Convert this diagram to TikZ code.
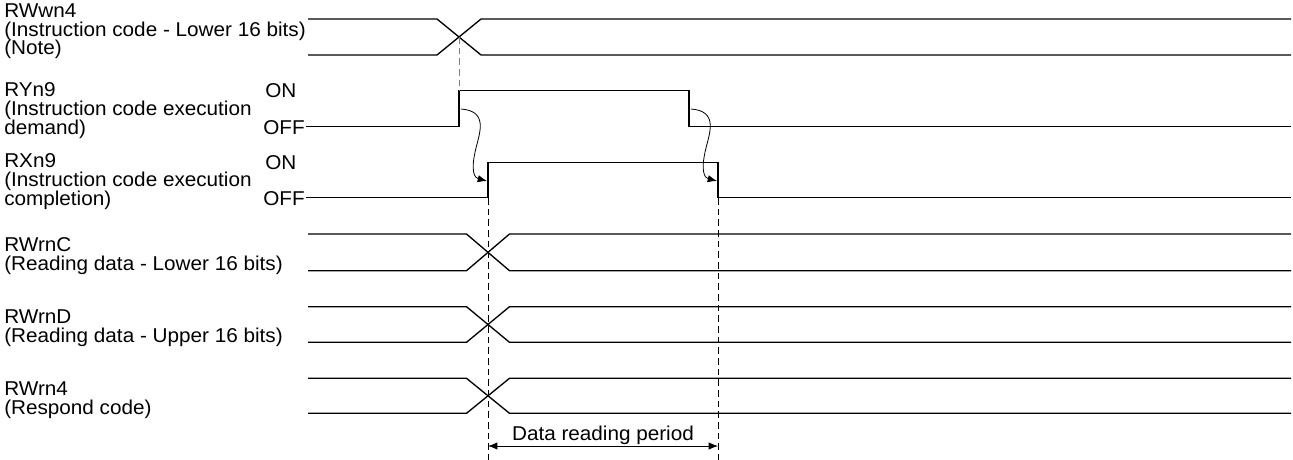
\documentclass[tikz,border=0pt]{standalone}
\usepackage{fontspec}
\setmainfont{Liberation Sans}[FakeStretch=1.035]
\usetikzlibrary{arrows.meta}

\begin{document}
\begin{tikzpicture}[
		x=0.75pt, y=-0.75pt,
		lbl/.style={anchor=base west, align=left, inner sep=0pt, font=\fontsize{15}{14}\selectfont},
		sig/.style={line width=1pt},
		guide/.style={line width=0.6pt, dash pattern=on 5pt off 3pt},
		cause/.style={line width=0.6pt, -{Latex[length=7pt, width=5.5pt]}},
		span/.style={line width=0.6pt, {Latex[length=7pt, width=5.5pt]}-{Latex[length=7pt, width=5.5pt]}},
		]
		\useasboundingbox (0,0) rectangle (1293,460);
		
		%Nodes (anchored at the baseline of the last line)
		\node[lbl](rwwn4) at (4,55){RWwn4\\(Instruction code - Lower 16 bits)\\(Note)};
		\node[lbl](ryn9) at (4,134){RYn9\\(Instruction code execution\\demand)};
		\node[lbl](ryon) at (265,98){ON};
		\node[lbl](ryoff) at (263,134){OFF};
		\node[lbl](rxn9) at (4,205){RXn9\\(Instruction code execution\\completion)};
		\node[lbl](rxon) at (265,170){ON};
		\node[lbl](rxoff) at (263,205){OFF};
		\node[lbl](rwrnc) at (4,270){RWrnC\\(Reading data - Lower 16 bits)};
		\node[lbl](rwrnd) at (4,342){RWrnD\\(Reading data - Upper 16 bits)};
		\node[lbl](rwrn4) at (4,414){RWrn4\\(Respond code)};
		
		%Edges
		\coordinate (ryleft) at (306,126.7);
		\coordinate (ryup) at (459,90.7);
		\coordinate (rydown) at (689,90.7);
		\coordinate (rxleft) at (306,197.7);
		\coordinate (rxup) at (488,162.7);
		\coordinate (rxdown) at (718,162.7);
		\coordinate (rdstart) at (488,446);
		\coordinate (rdend) at (718,446);
		
		%Signals
		\draw[sig] (308,19) -- (437,19) -- (481,55) -- (1291,55);
		\draw[sig] (308,55) -- (437,55) -- (481,19) -- (1291,19);
		\draw[sig] (ryleft) -- (459,126.7) -- (ryup) -- (rydown) -- (689,126.7) -- (1291,126.7);
		\draw[sig] (rxleft) -- (488,197.7) -- (rxup) -- (rxdown) -- (718,197.7) -- (1291,197.7);
		\foreach \ya/\yb in {234/270.7, 306.7/342.3, 378.3/413.3}{
			\draw[sig] (308,\ya) -- (466.5,\ya) -- (509.5,\yb) -- (1291,\yb);
			\draw[sig] (308,\yb) -- (466.5,\yb) -- (509.5,\ya) -- (1291,\ya);
		}
		
		%Lines
		\draw[guide, gray] (459,37) -- (ryup);
		\draw[guide] (488,198) -- (488,460);
		\draw[guide] (718,198) -- (718,460);
		\draw[cause] (461,109) .. controls (488,111) and (480,132) .. (476,148) .. controls (470,172) and (475,178) .. (487,181);
		\draw[cause] (691,109) .. controls (718,111) and (710,132) .. (706,148) .. controls (700,172) and (705,178) .. (717,181);
		\draw[span] (rdstart) -- (rdend) node[midway, above=1pt, inner sep=0pt, font=\fontsize{15}{14}\selectfont](period){Data reading period};
		
\end{tikzpicture}
\end{document}
